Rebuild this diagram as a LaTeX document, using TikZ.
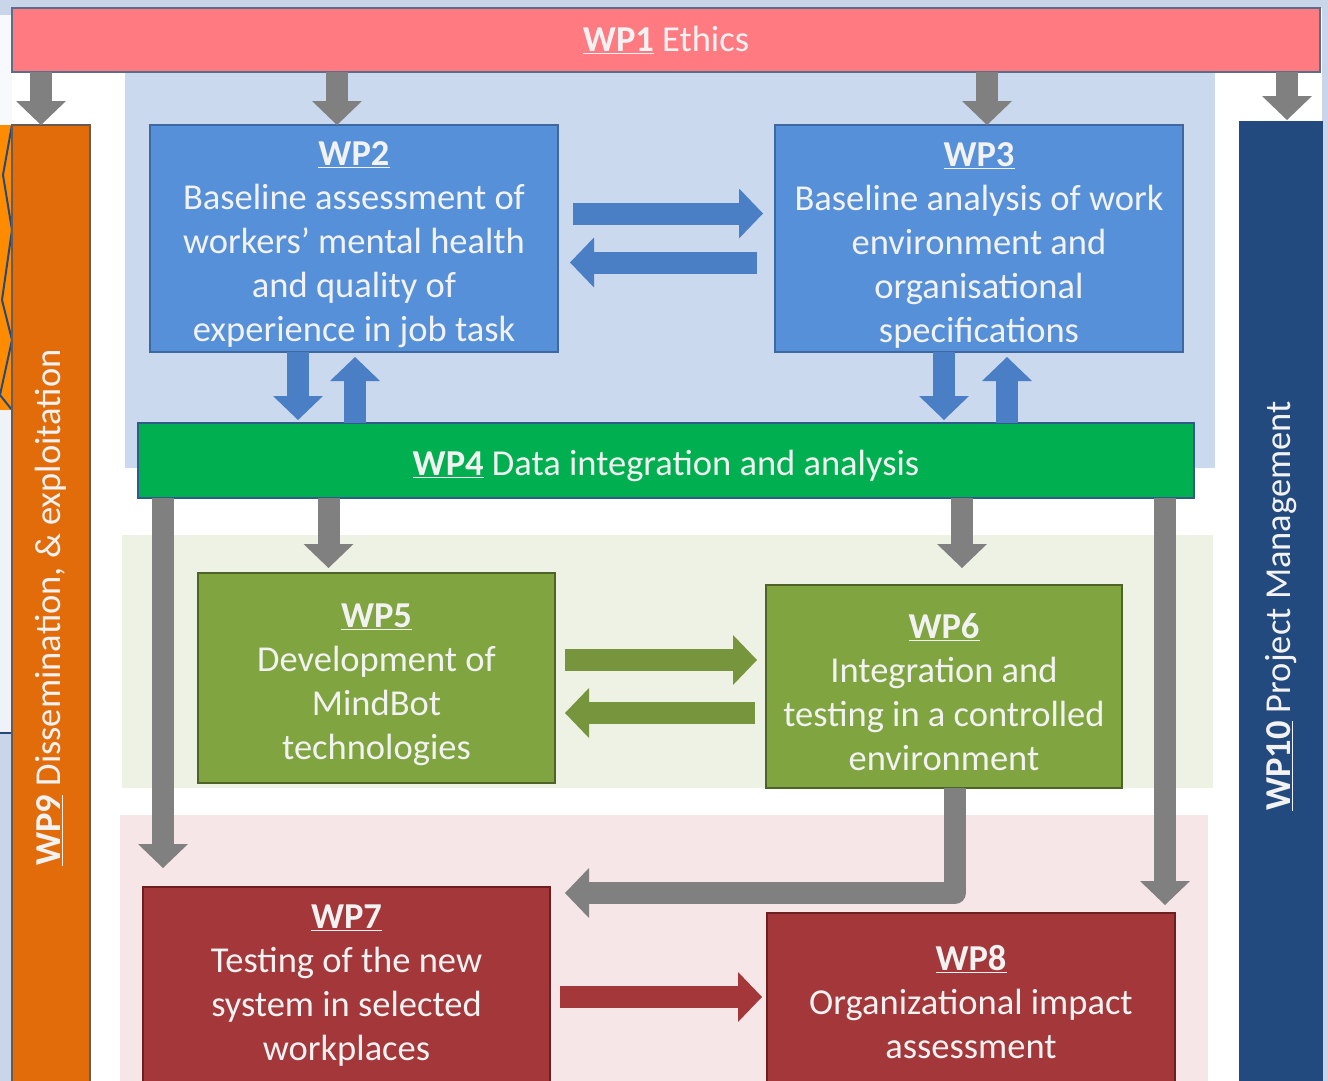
\documentclass[tikz,border=0pt]{standalone}
\usepackage{fontspec}
\setmainfont{Carlito}
\usetikzlibrary{arrows.meta,calc}
\definecolor{slidebg}{HTML}{C9D6EA}
\definecolor{wpone}{HTML}{FF7B81}
\definecolor{wponeb}{HTML}{5A6E8C}
\definecolor{zblue}{HTML}{CAD9EE}
\definecolor{zgreen}{HTML}{EEF2E4}
\definecolor{zpink}{HTML}{F6E6E7}
\definecolor{wporange}{HTML}{E36C0A}
\definecolor{wporangeb}{HTML}{6A5A50}
\definecolor{navy}{HTML}{224A7E}
\definecolor{boxblue}{HTML}{5690D8}
\definecolor{boxblueb}{HTML}{3F67A0}
\definecolor{arrblue}{HTML}{4A7FC6}
\definecolor{wpgreen}{HTML}{00B050}
\definecolor{wpgreenb}{HTML}{2F5A8A}
\definecolor{arrgray}{HTML}{808080}
\definecolor{olive}{HTML}{7FA440}
\definecolor{oliveb}{HTML}{4F6228}
\definecolor{arrolive}{HTML}{77953D}
\definecolor{boxred}{HTML}{A3373A}
\definecolor{boxredb}{HTML}{6E1F1F}
\definecolor{txt}{HTML}{F2F2F2}
\newcommand{\wpl}[1]{\underline{\textbf{#1}}}
\newcommand{\tstrut}{\rule{0pt}{37pt}}
\tikzset{
  every node/.style={font=\fontsize{36.5}{44}\selectfont, text=txt, inner sep=0pt, outer sep=0pt},
  wpbox/.style={draw=#1, line width=2pt, align=center},
  blockarr/.style={draw=#1, line width=22pt, line join=round,
     -{Triangle[width=50pt,length=24pt,line width=0pt]}},
}
\begin{document}
\begin{tikzpicture}[x=1pt,y=-1pt]
\useasboundingbox (0,0) rectangle (1328,1081);
\clip (0,0) rectangle (1328,1081);
% slide background
\fill[slidebg] (0,0) rectangle (1328,1081);
\fill[white!85!slidebg] (0,15) rectangle (12,125);
\fill[orange!90!yellow] (0,125) rectangle (12,410);
\draw[navy, line width=2pt] (12,125) -- (3,175) -- (12,230) -- (2,300) -- (12,340) -- (0,395) -- (12,410);
\fill[white!70!slidebg] (0,410) rectangle (12,733);
\draw[navy, line width=2pt] (0,733) -- (12,733);
\fill[white] (12,8) rectangle (1322,1081);
% zones
\fill[zblue] (125,72) rectangle (1215,468);
\fill[zgreen] (122,535) rectangle (1213,788);
\fill[zpink] (120,815) rectangle (1208,1081);
% boxes
\node[wpbox=wponeb, fill=wpone, line width=1.5pt, minimum width=1308, minimum height=64] (wp1) at (666,40) {\wpl{WP1} Ethics};
\node[wpbox=wporangeb, fill=wporange, line width=1.5pt, minimum width=78, minimum height=965] (wp9) at (51,607.5) {};
\node[rotate=90] (wp9t) at (wp9.center) {\wpl{WP9} Dissemination, \& exploitation};
\node[wpbox=navy, fill=navy, minimum width=82, minimum height=968] (wp10) at (1281,606) {};
\node[rotate=90] (wp10t) at (wp10.center) {\wpl{WP10} Project Management};
\node[wpbox=boxblueb, fill=boxblue, minimum width=408, minimum height=227] (wp2) at (354,238.5)
  {\tstrut\wpl{WP2}\\Baseline assessment of\\workers’ mental health\\and quality of\\experience in job task};
\node[wpbox=boxblueb, fill=boxblue, minimum width=408, minimum height=227] (wp3) at (979,238.5)
  {\tstrut\wpl{WP3}\\Baseline analysis of work\\environment and\\organisational\\specifications};
\node[wpbox=wpgreenb, fill=wpgreen, line width=1.5pt, minimum width=1056, minimum height=75] (wp4) at (666,460.5)
  {\tstrut\wpl{WP4} Data integration and analysis};
\node[wpbox=oliveb, fill=olive, minimum width=357, minimum height=210] (wp5) at (376.5,678)
  {\tstrut\wpl{WP5}\\Development of\\MindBot\\technologies};
\node[wpbox=oliveb, fill=olive, minimum width=356, minimum height=203] (wp6) at (944,686.5)
  {\tstrut\wpl{WP6}\\Integration and\\testing in a controlled\\environment};
\node[wpbox=boxredb, fill=boxred, minimum width=407, minimum height=213] (wp7) at (346.5,993.5) {};
\node[align=center, anchor=north] (wp7t) at ([yshift=-18pt]wp7.north)
  {\wpl{WP7}\\Testing of the new\\system in selected\\workplaces};
\node[wpbox=boxredb, fill=boxred, minimum width=408, minimum height=187] (wp8) at (971,1006.5) {};
\node[align=center, anchor=north] (wp8t) at ([yshift=-32pt]wp8.north)
  {\wpl{WP8}\\Organizational impact\\assessment};
% gray arrows from WP1
\draw[blockarr=arrgray] ([xshift=-10pt]wp9.north |- wp1.south) -- ([xshift=-10pt]wp9.north);
\draw[blockarr=arrgray] ([xshift=-17pt]wp2.north |- wp1.south) -- ([xshift=-17pt]wp2.north);
\draw[blockarr=arrgray] ([xshift=8pt]wp3.north |- wp1.south) -- ([xshift=8pt]wp3.north);
\draw[blockarr=arrgray] ([xshift=6pt]wp10.north |- wp1.south) -- ([xshift=6pt,yshift=2pt]wp10.north);
% blue arrows WP2 <-> WP3
\draw[blockarr=arrblue] ([xshift=15pt,yshift=25pt]wp2.east) -- ([xshift=-12pt,yshift=25pt]wp3.west);
\draw[blockarr=arrblue] ([xshift=-18pt,yshift=-24pt]wp3.west) -- ([xshift=12pt,yshift=-24pt]wp2.east);
% blue arrows WP2/WP3 <-> WP4
\draw[blockarr=arrblue] ([xshift=-56pt]wp2.south) -- ([xshift=-56pt,yshift=3pt]wp2.south |- wp4.north);
\draw[blockarr=arrblue] ([xshift=1pt]wp2.south |- wp4.north) -- ([xshift=1pt,yshift=-5pt]wp2.south);
\draw[blockarr=arrblue] ([xshift=-35pt]wp3.south) -- ([xshift=-35pt,yshift=3pt]wp3.south |- wp4.north);
\draw[blockarr=arrblue] ([xshift=28pt]wp3.south |- wp4.north) -- ([xshift=28pt,yshift=-5pt]wp3.south);
% gray arrows from WP4
\draw[blockarr=arrgray] ([xshift=-48pt]wp5.north |- wp4.south) -- ([xshift=-48pt,yshift=5pt]wp5.north);
\draw[blockarr=arrgray] ([xshift=18pt]wp6.north |- wp4.south) -- ([xshift=18pt,yshift=17pt]wp6.north);
\draw[blockarr=arrgray] ([xshift=25pt]wp4.south west) -- ([xshift=25pt,yshift=19pt]wp4.south west |- wp7.north);
\draw[blockarr=arrgray] ([xshift=-29pt]wp4.south east) -- ([xshift=-29pt,yshift=8pt]wp4.south east |- wp8.north);
% green arrows WP5 <-> WP6
\draw[blockarr=arrolive] ([xshift=10pt,yshift=18pt]wp5.east) -- ([xshift=-9pt,yshift=18pt]wp5.east -| wp6.west);
\draw[blockarr=arrolive] ([xshift=-11pt,yshift=-35pt]wp5.east -| wp6.west) -- ([xshift=10pt,yshift=-35pt]wp5.east);
% elbow WP6 -> WP7
\coordinate (elb) at (955,893);
\draw[blockarr=arrgray] (wp6.south -| elb) |- ([xshift=15pt]wp7.east |- elb);
% red arrow WP7 -> WP8
\draw[blockarr=boxred] ([xshift=10pt,yshift=-3.5pt]wp7.east) -- ([xshift=-5pt,yshift=-3.5pt]wp7.east -| wp8.west);
\end{tikzpicture}
\end{document}
